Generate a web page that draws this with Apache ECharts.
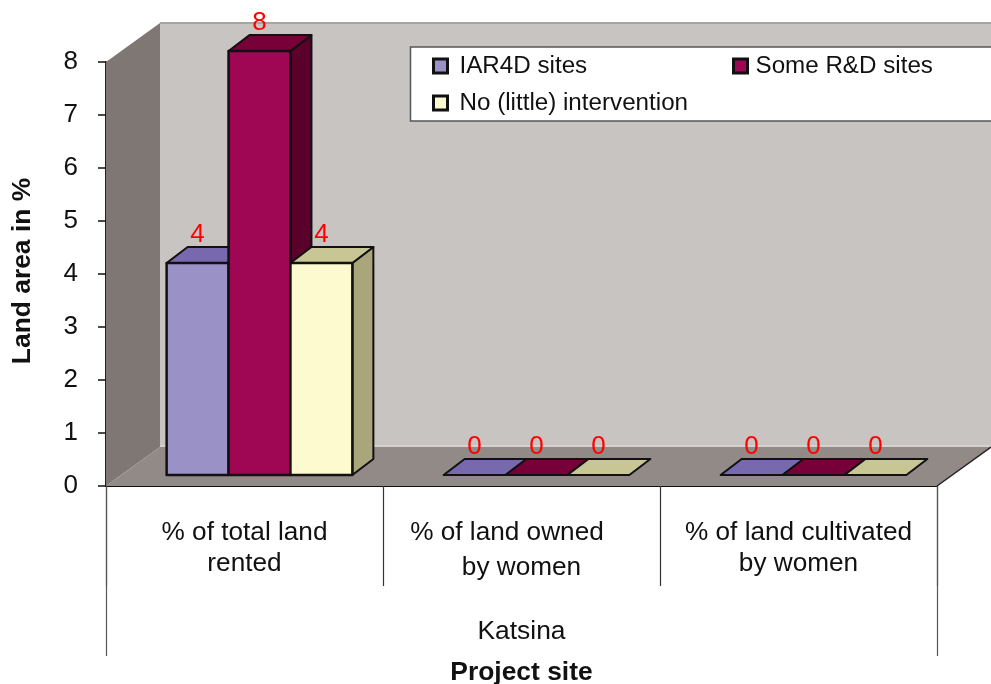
<!DOCTYPE html>
<html><head><meta charset="utf-8">
<style>html,body{margin:0;padding:0;background:#fff}#c{width:991px;height:684px}</style>
<script src="https://cdn.jsdelivr.net/npm/echarts@6/dist/echarts.min.js"></script>
</head><body><div id="c"></div>
<script>
var categories = ['% of total land\nrented', '% of land owned    \nby women', '% of land cultivated\nby women'];
var siteGroup = ['Katsina'];
var iar4d = [4, 0, 0];
var someRD = [8, 0, 0];
var noIntervention = [4, 0, 0];
var seriesNames = ['IAR4D sites', 'Some R&D sites', 'No (little) intervention'];
var yMax = 8, yInterval = 1;

var FONT = '"Liberation Sans", Arial, sans-serif';
var WALL = [54, -39], BAR_FRONT = [15, -11], BAR_DEPTH = [21, -16], BAR_RATIO = 0.2235;
var palettes = [
  {front: '#9A92C6', top: '#7868AD', side: '#5F568F'},
  {front: '#9F0653', top: '#770038', side: '#5A002A'},
  {front: '#FEFACF', top: '#C9C695', side: '#A9A67C'}
];

function poly(pts, fill, stroke, w) {
  return {type: 'polygon', shape: {points: pts}, style: {fill: fill, stroke: stroke || null, lineWidth: w || 0, lineJoin: 'round'}};
}

function backdrop(params, api) {
  var band = api.size([1, 0])[0];
  var p0 = api.coord([0, 0]), pT = api.coord([0, yMax]);
  var L = p0[0] - band / 2, R = L + band * categories.length, B = p0[1], T = pT[1];
  var dx = WALL[0], dy = WALL[1];
  return {type: 'group', children: [
    poly([[L + dx, T + dy], [R + dx, T + dy], [R + dx, B + dy], [L + dx, B + dy]], '#C8C4C1'),
    {type: 'line', shape: {x1: L + dx, y1: T + dy, x2: R + dx, y2: T + dy}, style: {stroke: '#A8A4A1', lineWidth: 2}},
    {type: 'line', shape: {x1: L + dx, y1: B + dy - 1, x2: R + dx, y2: B + dy - 1}, style: {stroke: '#D4D1CE', lineWidth: 2}},
    poly([[L, T], [L + dx, T + dy], [L + dx, B + dy], [L, B]], '#7F7774'),
    poly([[L, B], [R, B], [R + dx, B + dy], [L + dx, B + dy]], '#928A87'),
    {type: 'line', shape: {x1: R, y1: B, x2: R + dx, y2: B + dy}, style: {stroke: '#222', lineWidth: 1.5}}
  ]};
}

function barRenderer(seriesIdx) {
  return function (params, api) {
    var cat = api.value(0), val = api.value(1);
    var band = api.size([1, 0])[0];
    var w = band * BAR_RATIO;
    var base = api.coord([cat, 0]), top = api.coord([cat, val]);
    var x0 = base[0] + BAR_FRONT[0] + (seriesIdx - 1.5) * w;
    var x1 = x0 + w;
    var yB = base[1] + BAR_FRONT[1], yT = top[1] + BAR_FRONT[1];
    var dx = BAR_DEPTH[0], dy = BAR_DEPTH[1];
    var c = palettes[seriesIdx];
    var children = [];
    if (val > 0) {
      children.push(poly([[x1, yT], [x1 + dx, yT + dy], [x1 + dx, yB + dy], [x1, yB]], c.side, '#111', 2));
    }
    children.push(poly([[x0, yT], [x0 + dx, yT + dy], [x1 + dx, yT + dy], [x1, yT]], c.top, '#111', 2));
    if (val > 0) {
      children.push(poly([[x0, yT], [x1, yT], [x1, yB], [x0, yB]], c.front, '#111', 2.5));
    }
    children.push({type: 'text', x: (x0 + x1) / 2, y: yT - 28, style: {
      text: String(val), fill: '#FF0000', font: '26px ' + FONT, align: 'center', verticalAlign: 'middle'
    }, z2: 50});
    return {type: 'group', children: children};
  };
}

function rows(arr) { return arr.map(function (v, i) { return [i, v]; }); }
function barSeries(i, arr) {
  return {name: seriesNames[i], type: 'custom', xAxisIndex: 0, yAxisIndex: 0, clip: false,
    itemStyle: {color: palettes[i].front},
    encode: {x: 0, y: 1}, data: rows(arr), renderItem: barRenderer(i)};
}
function legendItem(i, left, top, gap) {
  return {data: [seriesNames[i]], left: left, top: top, padding: 0, icon: 'rect', itemWidth: 14, itemHeight: 14,
    itemStyle: {borderColor: '#111', borderWidth: 3},
    selectedMode: false,
    textStyle: {fontFamily: FONT, fontSize: 24.2, color: '#111', padding: [0, 0, 0, gap]}};
}
var catRich = {
  a: {fontFamily: FONT, fontSize: 26.2, color: '#111', lineHeight: 31},
  b: {fontFamily: FONT, fontSize: 26.2, color: '#111', lineHeight: 39}
};
function catLabel(value, index) {
  var parts = value.split('\n');
  return '{a|' + parts[0] + '}\n{' + (index === 1 ? 'b' : 'a') + '|' + parts[1] + '}';
}

var chart = echarts.init(document.getElementById('c'), null, {renderer: 'canvas'});
chart.setOption({
  animation: false,
  backgroundColor: '#fff',
  grid: {left: 106, right: 54, top: 62, bottom: 198, outerBoundsMode: 'none'},
  graphic: [{type: 'rect', z: 3, shape: {x: 410.5, y: 47, width: 590, height: 74},
    style: {fill: '#fff', stroke: '#555', lineWidth: 1.5}}],
  legend: [legendItem(0, 432, 54, 7), legendItem(1, 732, 54, 3), legendItem(2, 432, 91, 7)],
  xAxis: [
    {type: 'category', data: categories, position: 'bottom',
     axisLine: {show: true, lineStyle: {color: '#111', width: 2}},
     axisTick: {show: true, length: 100, lineStyle: {color: '#333', width: 1.2}},
     axisLabel: {margin: 31, formatter: catLabel, rich: catRich}},
    {type: 'category', data: siteGroup, position: 'bottom',
     axisLine: {show: false},
     axisTick: {show: true, length: 170, lineStyle: {color: '#555', width: 1.2}},
     axisLabel: {margin: 133, fontFamily: FONT, fontSize: 26.4, color: '#111'},
     name: 'Project site', nameLocation: 'middle', nameGap: 174,
     nameTextStyle: {fontFamily: FONT, fontSize: 26.4, fontWeight: 'bold', color: '#111'}}
  ],
  yAxis: {type: 'value', min: 0, max: yMax, interval: yInterval,
    axisLine: {show: true, lineStyle: {color: '#222', width: 2}},
    axisTick: {show: true, length: 8, lineStyle: {color: '#111', width: 1.5}},
    axisLabel: {margin: 28, fontFamily: FONT, fontSize: 26, color: '#111'},
    splitLine: {show: false},
    name: 'Land area in %', nameLocation: 'middle', nameGap: 70, nameRotate: 90,
    nameTextStyle: {fontFamily: FONT, fontSize: 26.4, fontWeight: 'bold', color: '#111', padding: [0, 0, 0, 6]}},
  series: [
    {type: 'custom', xAxisIndex: 0, yAxisIndex: 0, clip: false, silent: true, z: 1,
     encode: {x: 0, y: 1}, data: [[0, 0]], renderItem: backdrop},
    barSeries(0, iar4d), barSeries(1, someRD), barSeries(2, noIntervention)
  ]
});
</script></body></html>
